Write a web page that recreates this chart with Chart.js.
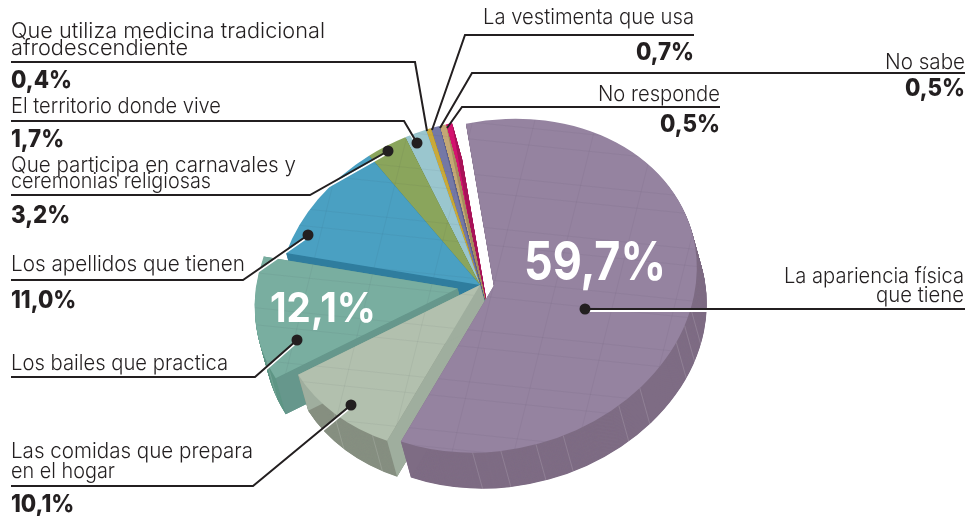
<!DOCTYPE html>
<html><head><meta charset="utf-8">
<style>html,body{margin:0;padding:0;background:#fff}#w{width:968px;height:516px;position:relative}</style>
<script src="https://cdn.jsdelivr.net/npm/chart.js@4"></script></head>
<body><div id="w"><canvas id="c" width="968" height="516"></canvas></div>
<script>
const categories=["La apariencia física que tiene","Las comidas que prepara en el hogar","Los bailes que practica","Los apellidos que tienen","Que participa en carnavales y ceremonias religiosas","El territorio donde vive","Que utiliza medicina tradicional afrodescendiente","La vestimenta que usa","No sabe","No responde"];
const values=[59.7,10.1,12.1,11.0,3.2,1.7,0.4,0.7,0.5,0.5];
const colors=["#9583a0","#b2c0ae","#79aea0","#4aa0c2","#8aa55c","#9ac6ce","#c9a93a","#7478a6","#c4a875","#d4126f"];
const wallColors=["#7e6c84","#868f80","#5f9686","#2f7d9e","#6f8a49","#7ea8b0","#a88c2c","#5d618c","#a58c5e","#a81258"];
const sideColors=["#7e6c84","#9fae9e","#66978c","#2f7d9e","#6f8a49","#7ea8b0","#a88c2c","#5d618c","#a58c5e","#a81258"];
const explode=[56,0,90,0,0,0,0,0,0,0];
const paintOrder=[9,8,7,6,5,4,3,2,1,0];
const PIE={cx:480,cy:285,a:203,c:-18,d:166,dx:10,dy:36};
const LIGHT='300 22px Inter',BOLD='800 24px Inter';
const labels=[
 {t:["La apariencia física","que tiene"],w:[180,88],x:964,y:[283,302],al:'right'},
 {t:["Las comidas que prepara","en el hogar"],w:[242,104],x:11,y:[458,478],al:'left',v:"10,1%",vy:512},
 {t:["Los bailes que practica"],w:[217],x:11,y:[370],al:'left'},
 {t:["Los apellidos que tienen"],w:[234],x:11,y:[271],al:'left',v:"11,0%",vy:308},
 {t:["Que participa en carnavales y","ceremonias religiosas"],w:[285,200],x:11,y:[172,188],al:'left',v:"3,2%",vy:223},
 {t:["El territorio donde vive"],w:[210],x:11,y:[113],al:'left',v:"1,7%",vy:147},
 {t:["Que utiliza medicina tradicional","afrodescendiente"],w:[314,177],x:11,y:[38,55],al:'left',v:"0,4%",vy:88},
 {t:["La vestimenta que usa"],w:[211],x:694,y:[24],al:'right',v:"0,7%",vy:60},
 {t:["No sabe"],w:[80],x:965,y:[69],al:'right',v:"0,5%",vy:96},
 {t:["No responde"],w:[122],x:720,y:[101],al:'right',v:"0,5%",vy:132}
];
const leaders=[
 {p:[[585,309],[965,309]],dot:1},
 {p:[[351,405],[253,486],[11,486]],dot:1},
 {p:[[297,340],[255,377],[11,377]],dot:1},
 {p:[[308,235],[243,280],[11,280]],dot:1},
 {p:[[388,151],[310,195],[11,195]],dot:1},
 {p:[[417,143],[404,121],[11,121]],dot:1},
 {p:[[427,131],[415,62],[11,62]]},
 {p:[[432,130],[465,35],[694,35]]},
 {p:[[440,128],[472,73],[965,73]]},
 {p:[[447,128],[462,107],[720,107]]}
];
const inner=[{t:"59,7%",x:595,y:280,w:142,f:'700 54px Inter'},{t:"12,1%",x:323,y:322,w:106,f:'700 41px Inter'}];
const wallTicks=[[0,14],[0,20],[0,26],[0,44],[0,52],[0,70],[0,78],[0,88],[0,96],[1,122],[1,136],[2,160]];

function ghost(arc,color){const g=Object.create(arc);g.options=Object.assign({},arc.options,{offset:0,backgroundColor:color,borderWidth:0,spacing:0});return g;}
const surface={id:'surface',beforeDatasetsDraw(chart){
 const ctx=chart.ctx,arcs=chart.getDatasetMeta(0).data;
 const R=arcs[0].outerRadius,ox=arcs[0].x,oy=arcs[0].y;
 const A=PIE.a/R,C=PIE.c/R,D=PIE.d/R;
 const mat=(lx,ly,tx,ty)=>{
  const e=PIE.cx+A*(lx-ox)+tx, f=PIE.cy+C*(lx-ox)+D*(ly-oy)+ty; ctx.setTransform(A,C,0,D,e,f);};
 const dev=(lx,ly)=>[PIE.cx+A*(lx-ox),PIE.cy+C*(lx-ox)+D*(ly-oy)];
 for(const i of paintOrder){
  const arc=arcs[i],off=(arc.options.offset||0)/4,h=(arc.startAngle+arc.endAngle)/2;
  const lx=Math.cos(h)*off,ly=Math.sin(h)*off;
  ctx.save();
  const wall=ghost(arc,wallColors[i]);
  for(let t=PIE.dy;t>=1;t-=0.5){mat(lx,ly,PIE.dx*t/PIE.dy,t);wall.draw(ctx);}
  ctx.setTransform(1,0,0,1,0,0);
  const apex=dev(ox+lx,oy+ly);
  for(const ang of [arc.startAngle,arc.endAngle]){
   const q=dev(ox+lx+R*Math.cos(ang),oy+ly+R*Math.sin(ang));
   ctx.fillStyle=sideColors[i];ctx.beginPath();ctx.moveTo(apex[0],apex[1]);ctx.lineTo(q[0],q[1]);
   ctx.lineTo(q[0]+PIE.dx,q[1]+PIE.dy);ctx.lineTo(apex[0]+PIE.dx,apex[1]+PIE.dy);ctx.closePath();ctx.fill();
  }
  ctx.strokeStyle='rgba(255,255,255,.2)';ctx.lineWidth=.7;
  for(const tk of wallTicks){ if(tk[0]!==i) continue;
   const aa=tk[1]*Math.PI/180;
   const q=dev(ox+lx+R*Math.cos(aa),oy+ly+R*Math.sin(aa));
   ctx.beginPath();ctx.moveTo(q[0],q[1]);ctx.lineTo(q[0]+PIE.dx,q[1]+PIE.dy);ctx.stroke();
  }
  mat(lx,ly,0,0);
  ghost(arc,colors[i]).draw(ctx);
  ctx.beginPath();ctx.moveTo(ox,oy);ctx.arc(ox,oy,arc.outerRadius,arc.startAngle,arc.endAngle);ctx.closePath();
  ctx.save();ctx.clip();
  ctx.setTransform(1,0,0,1,0,0);
  ctx.strokeStyle='rgba(60,50,80,.07)';ctx.lineWidth=.8;
  for(let k=-6;k<12;k++){const y=60+k*52;ctx.beginPath();ctx.moveTo(200,y-18);ctx.lineTo(760,y+40);ctx.stroke();
   ctx.beginPath();ctx.moveTo(200,y+17-18);ctx.lineTo(760,y+17+40);ctx.stroke();}
  for(let k=-2;k<14;k++){const x=170+k*62;ctx.beginPath();ctx.moveTo(x+60,100);ctx.lineTo(x-40,500);ctx.stroke();}
  ctx.restore();
  ctx.restore();
 }
 return false;
},
 afterDraw(chart){
  const ctx=chart.ctx;ctx.save();ctx.setTransform(1,0,0,1,0,0);
  leaders.forEach(L=>{
   const path=()=>{ctx.beginPath();L.p.forEach((q,i)=>i?ctx.lineTo(q[0],q[1]):ctx.moveTo(q[0],q[1]));};
   if(L.dot){ctx.save();ctx.translate(0,2);ctx.strokeStyle='#fff';ctx.lineWidth=2;path();ctx.stroke();ctx.restore();}
   ctx.strokeStyle='#231f20';ctx.lineWidth=2;ctx.lineJoin='miter';path();ctx.stroke();
   if(L.dot){ctx.fillStyle='#231f20';ctx.beginPath();ctx.arc(L.p[0][0],L.p[0][1],5.5,0,7);ctx.fill();}
  });
  ctx.textBaseline='alphabetic';
  labels.forEach(l=>{ctx.textAlign=l.al;ctx.fillStyle='#231f20';ctx.font=LIGHT;
   l.t.forEach((s,i)=>ctx.fillText(s,l.x,l.y[i],l.w[i]));
   if(l.v){ctx.font=BOLD;ctx.fillText(l.v,l.x,l.vy,ctx.measureText(l.v).width*0.93);}
  });
  ctx.fillStyle='#fff';ctx.textAlign='center';
  inner.forEach(n=>{ctx.font=n.f;ctx.fillText(n.t,n.x,n.y,n.w);});
  ctx.restore();
 }};
new Chart(document.getElementById('c'),{type:'pie',
 data:{labels:categories,datasets:[{data:values,backgroundColor:colors,offset:explode,borderWidth:0}]},
 options:{responsive:false,animation:false,rotation:-7.9,layout:{padding:{top:10,bottom:10}},
  events:[],plugins:{legend:{display:false},tooltip:{enabled:false},title:{display:false}}},
 plugins:[surface]});
</script></body></html>
